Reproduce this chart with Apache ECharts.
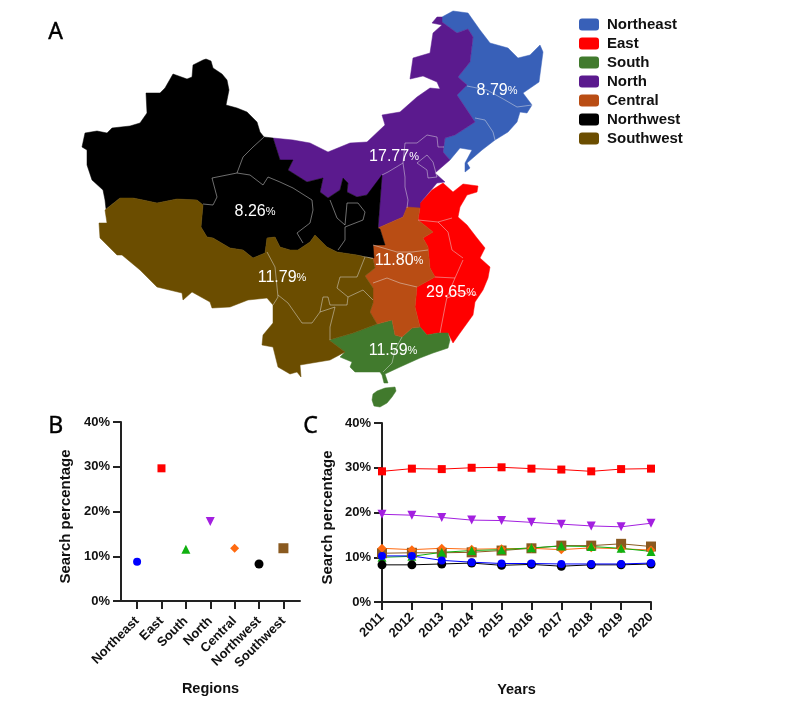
<!DOCTYPE html>
<html><head><meta charset="utf-8">
<style>html,body{margin:0;padding:0;background:#fff}#c{width:800px;height:709px}</style>
<script src="https://cdn.jsdelivr.net/npm/echarts@6/dist/echarts.min.js"></script>
</head><body><div id="c"></div>
<script>
const regions = ['Northeast','East','South','North','Central','Northwest','Southwest'];
const shares = [8.79,29.65,11.59,17.77,11.80,8.26,11.79];
const years = ['2011','2012','2013','2014','2015','2016','2017','2018','2019','2020'];

const east      = [29.2,29.8,29.7,30.0,30.1,29.8,29.6,29.2,29.7,29.8];
const north     = [19.6,19.4,18.9,18.3,18.2,17.8,17.4,17.0,16.8,17.6];
const central   = [12.0,11.7,12.0,11.8,11.9,12.0,11.7,12.1,11.9,11.6];
const south     = [10.0,10.2,11.1,11.5,11.7,12.1,12.5,12.4,12.0,11.3];
const southwest = [10.9,11.0,11.0,11.1,11.5,12.0,12.6,12.6,13.0,12.4];
const northeast = [10.3,10.3,9.3,8.9,8.6,8.6,8.5,8.5,8.5,8.7];
const northwest = [8.3,8.3,8.5,8.7,8.2,8.4,8.0,8.3,8.3,8.5];
const trend = {Southwest:southwest,Central:central,South:south,North:north,East:east,Northwest:northwest,Northeast:northeast};

const mapColors = {Northeast:'#3860b8',East:'#ff0000',South:'#417a2d',North:'#5b1a8e',Central:'#b94d14',Northwest:'#000000',Southwest:'#6b4d00'};
const dotColors = {Northeast:'#0000ff',East:'#ff0000',South:'#10b010',North:'#a31fe0',Central:'#ff6a10',Northwest:'#000000',Southwest:'#8a5a20'};
const downTri = 'path://M0,0 L10,0 L5,10 Z';
const dotSymbols = {Northeast:'circle',East:'rect',South:'triangle',North:downTri,Central:'diamond',Northwest:'circle',Southwest:'rect'};
const dotSizes = {Northeast:8,East:8,South:9,North:9,Central:9,Northwest:9,Southwest:10};

// Map outlines, in map units
const outlineNortheast = [[442,17],[453,11],[468,13],[480,30],[490,43],[508,48],[518,58],[530,55],[540,45],[543,52],[539,82],[523,93],[532,105],[527,113],[520,112],[517,122],[508,132],[495,140],[482,150],[467,163],[470,168],[465,172],[465,163],[472,150],[460,148],[450,160],[443,152],[445,138],[455,135],[475,122],[457,95],[467,85],[458,77],[470,62],[473,37],[468,29],[457,33],[442,22]];
const outlineNorth = [[273,138],[293,140],[310,143],[328,152],[350,143],[367,142],[385,125],[382,115],[400,112],[417,97],[430,88],[440,89],[437,82],[423,76],[410,79],[413,58],[430,53],[433,33],[442,25],[432,23],[437,17],[442,17],[442,22],[457,33],[468,29],[473,37],[470,62],[458,77],[467,85],[457,95],[475,122],[455,135],[445,138],[443,152],[450,160],[435,173],[445,182],[437,183],[420,203],[420,208],[407,208],[403,217],[378,228],[382,175],[378,197],[367,195],[357,197],[347,192],[348,183],[343,178],[340,190],[328,198],[320,192],[323,178],[307,182],[288,170],[293,160],[280,160]];
const outlineNorthwest = [[206,59],[211,61],[213,68],[222,74],[227,80],[229,90],[226,105],[237,108],[247,112],[257,122],[260,132],[264,137],[273,138],[280,160],[293,160],[288,170],[307,182],[323,178],[320,192],[328,198],[340,190],[343,178],[348,183],[347,192],[357,197],[367,195],[382,175],[378,228],[380,229],[385,245],[373,245],[374,258],[373,259],[357,255],[337,252],[327,247],[315,235],[310,242],[298,250],[290,250],[280,247],[275,237],[267,238],[265,253],[253,258],[243,250],[230,248],[213,238],[207,237],[201,227],[203,205],[197,200],[177,199],[157,203],[143,200],[133,198],[120,198],[106,209],[105,200],[103,190],[92,180],[87,165],[87,150],[82,147],[85,133],[97,131],[107,133],[112,128],[130,126],[140,123],[147,113],[146,93],[160,93],[165,88],[173,74],[187,79],[192,77],[193,65],[203,60]];
const lakeNorthwest = [[232,174],[235,166],[237,160],[241,159],[237,170],[235,175]];
const outlineSouthwest = [[105,210],[120,198],[133,198],[143,200],[157,203],[177,199],[197,200],[203,205],[201,227],[207,237],[213,238],[230,248],[243,250],[253,258],[265,253],[267,238],[275,237],[280,247],[290,250],[298,250],[310,242],[315,235],[327,247],[337,252],[357,255],[373,259],[375,268],[365,276],[373,288],[373,303],[370,312],[377,324],[353,333],[329,340],[345,352],[330,360],[300,365],[301,377],[297,372],[290,374],[278,367],[273,347],[262,345],[263,335],[273,323],[273,305],[267,298],[248,300],[230,307],[212,308],[210,302],[192,292],[183,300],[182,293],[157,287],[140,270],[122,255],[117,255],[100,238],[99,223],[107,223]];
const outlineCentral = [[407,207],[420,208],[418,220],[433,232],[423,238],[428,247],[430,268],[435,277],[417,287],[415,307],[420,327],[412,328],[402,337],[395,335],[392,320],[377,324],[370,312],[373,303],[373,288],[365,276],[375,268],[373,259],[374,258],[373,245],[385,245],[380,229],[378,228],[403,217]];
const outlineEast = [[420,203],[432,190],[443,183],[453,192],[463,184],[478,186],[477,192],[467,195],[460,207],[458,217],[467,225],[477,238],[485,248],[480,258],[490,267],[488,278],[483,290],[475,302],[473,315],[460,333],[453,343],[448,333],[438,333],[427,335],[420,327],[415,307],[417,287],[435,277],[430,268],[428,247],[423,238],[433,232],[418,220],[420,208]];
const lakeEast = [[468,255],[473,254],[474,259],[469,260]];
const outlineSouth = [[377,324],[392,320],[395,335],[402,337],[412,328],[420,327],[427,335],[438,333],[448,333],[450,340],[448,348],[433,353],[420,358],[400,367],[385,374],[388,383],[384,383],[382,375],[380,372],[355,372],[350,367],[352,362],[340,357],[345,352],[329,340],[353,333]];
const outlineHainan = [[377,391],[385,388],[395,387],[396,391],[392,397],[387,403],[380,407],[374,406],[372,400],[373,394]];

// Province borders, in map units
const provinceBorders = [
  [[264,137],[253,147],[243,157],[237,173],[212,178],[217,197],[213,205],[203,204]],
  [[237,173],[250,175],[263,185],[268,177],[280,182],[293,188],[312,200],[313,210],[310,223],[297,233],[303,243]],
  [[330,200],[337,218],[345,225],[347,203],[358,203],[365,212],[363,220],[345,227],[345,240],[338,250]],
  [[388,172],[403,163],[405,143],[417,143],[427,135],[437,137],[438,147],[444,147]],
  [[382,175],[388,172]],
  [[403,163],[405,177],[405,187],[408,200],[407,208]],
  [[417,163],[427,170],[428,178],[437,177],[433,162],[427,155],[417,163]],
  [[467,86],[487,90],[505,100],[517,107],[532,105]],
  [[475,118],[485,120],[493,132],[495,140]],
  [[373,245],[397,252],[412,252],[428,250]],
  [[373,283],[387,278],[400,283],[417,287]],
  [[418,220],[438,222],[452,218]],
  [[438,222],[448,232],[452,250],[463,258]],
  [[435,277],[455,278],[463,260]],
  [[455,278],[447,297],[445,307],[440,333]],
  [[447,298],[460,293],[477,295]],
  [[402,337],[395,350],[392,363],[383,372]],
  [[267,252],[275,267],[278,297],[273,305]],
  [[278,295],[288,303],[302,323],[312,323],[320,312],[323,297],[328,297],[330,305],[347,305],[348,297],[337,288],[340,277],[357,277],[365,257]],
  [[348,297],[363,290],[373,300]],
  [[320,312],[335,307],[330,327],[330,340]]
];
const labelAnchors = {Northeast:[497,91],East:[451,293],South:[393,351],North:[394,157],Central:[399,261],Northwest:[255,212],Southwest:[282,278]};

const flip = pts => pts.map(p => [p[0], -p[1]]);
const close = pts => flip(pts.concat([pts[0]]));
const shapes = {
  Northeast:[[close(outlineNortheast)]], East:[[close(outlineEast),close(lakeEast)]],
  South:[[close(outlineSouth)],[close(outlineHainan)]], North:[[close(outlineNorth)]],
  Central:[[close(outlineCentral)]], Northwest:[[close(outlineNorthwest),close(lakeNorthwest)]],
  Southwest:[[close(outlineSouthwest)]]
};
echarts.registerMap('china7',{type:'FeatureCollection',features:regions.map(r=>({
  type:'Feature',properties:{name:r},geometry:{type:'MultiPolygon',coordinates:shapes[r]}
}))});

const allPts = Object.values(shapes).flat(3);
const xs = allPts.map(p=>p[0]), ys = allPts.map(p=>-p[1]);
const minX=Math.min(...xs),maxX=Math.max(...xs),minY=Math.min(...ys),maxY=Math.max(...ys);

const font = '"Liberation Sans",Arial,sans-serif';
const INK = '#222222';
const yAxisCommon = {
  type:'value',min:0,max:40,interval:10,name:'Search percentage',nameLocation:'middle',
  nameTextStyle:{fontFamily:font,fontWeight:'bold',fontSize:15,color:'#111',padding:[0,10,0,0]},
  axisLine:{show:true,onZero:false,lineStyle:{color:INK,width:2}},
  axisTick:{show:true,length:8,lineStyle:{color:INK,width:2}},
  axisLabel:{margin:11,fontFamily:font,fontWeight:'bold',fontSize:13,color:'#111',formatter:'{value}%'},
  splitLine:{show:false}
};
const xAxisLook = {
  nameLocation:'middle',nameGap:80,
  nameTextStyle:{fontFamily:font,fontWeight:'bold',fontSize:14.5,color:'#111'},
  axisLine:{show:true,onZero:false,lineStyle:{color:INK,width:2}},
  splitLine:{show:false}
};
const tickIdx = regions.map((_,i)=>i);

const series = [];
regions.forEach((r,i)=>series.push({
  name:r,type:'scatter',coordinateSystem:'geo',geoIndex:0,symbolSize:0,silent:true,z:6,
  itemStyle:{color:mapColors[r],opacity:1},
  data:[[labelAnchors[r][0],-labelAnchors[r][1],shares[i]]],
  label:{show:true,position:'inside',
    formatter:p=>'{n|'+p.value[2].toFixed(2)+'}{p|%}',
    rich:{n:{color:'#fff',fontFamily:font,fontSize:16},p:{color:'#fff',fontFamily:font,fontSize:11}}}
}));
series.push({
  type:'lines',coordinateSystem:'geo',geoIndex:0,polyline:true,silent:true,z:4,
  lineStyle:{color:'#e6e6e6',width:0.6,opacity:0.8},
  data:provinceBorders.map(b=>({coords:flip(b)}))
});
series.push({
  name:'Regional share',type:'scatter',xAxisIndex:0,yAxisIndex:0,silent:true,
  data:regions.map((r,i)=>({value:[i,shares[i]],symbol:dotSymbols[r],symbolSize:dotSizes[r],itemStyle:{color:dotColors[r],opacity:1}}))
});
Object.keys(trend).forEach(r=>series.push({
  name:r,type:'line',xAxisIndex:1,yAxisIndex:1,silent:true,
  data:trend[r],symbol:dotSymbols[r],symbolSize:dotSizes[r],showSymbol:true,
  lineStyle:{color:dotColors[r],width:1},itemStyle:{color:dotColors[r],opacity:1}
}));

const letter = (t,x,y)=>({type:'text',left:x,top:y,style:{text:t,fontFamily:'"Noto Sans"',fontSize:23,fill:'#000',stroke:'#000',lineWidth:0.4}});

const chart = echarts.init(document.getElementById('c'),null,{renderer:'canvas'});
chart.setOption({
  animation:false,backgroundColor:'#fff',
  graphic:[letter('A',48,21),letter('B',48,415),letter('C',303,415)],
  legend:{
    data:regions,orient:'vertical',left:574,top:12,itemWidth:20,itemHeight:12,itemGap:4,
    icon:'roundRect',selectedMode:false,
    textStyle:{fontFamily:font,fontWeight:'bold',fontSize:15,color:'#111',padding:[0,0,0,3]}
  },
  geo:{
    map:'china7',roam:false,silent:true,aspectScale:1,zoom:1,
    left:minX,top:minY,width:maxX-minX,height:maxY-minY,
    label:{show:false},
    regions:regions.map(r=>({name:r,itemStyle:{areaColor:mapColors[r],borderColor:mapColors[r],borderWidth:0.5}}))
  },
  grid:[
    {left:121,top:422,width:179,height:179},
    {left:382,top:423,width:269,height:179}
  ],
  xAxis:[
    Object.assign({},xAxisLook,{
      gridIndex:0,type:'value',name:'Regions',min:-0.66,max:6.68,
      axisTick:{show:true,length:8,customValues:tickIdx,lineStyle:{color:INK,width:2}},
      axisLabel:{customValues:tickIdx,rotate:45,margin:18,fontFamily:font,fontWeight:'bold',fontSize:13,color:'#111',
        formatter:v=>regions[v]}
    }),
    Object.assign({},xAxisLook,{
      gridIndex:1,type:'category',name:'Years',data:years,boundaryGap:false,
      axisTick:{show:true,length:8,alignWithLabel:true,lineStyle:{color:INK,width:2}},
      axisLabel:{interval:0,rotate:45,margin:13,fontFamily:font,fontWeight:'bold',fontSize:13,color:'#111'}
    })
  ],
  yAxis:[
    Object.assign({},yAxisCommon,{gridIndex:0,nameGap:48}),
    Object.assign({},yAxisCommon,{gridIndex:1,nameGap:47})
  ],
  series
});
</script></body></html>
